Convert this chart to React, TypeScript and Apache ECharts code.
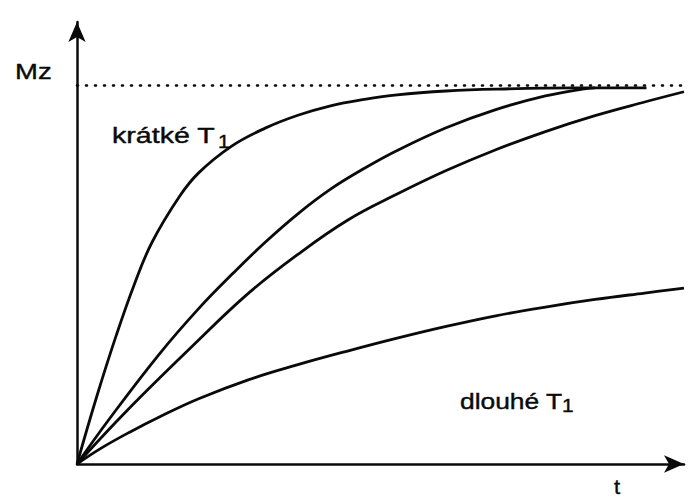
import React, { useEffect, useRef } from "react";
import * as echarts from "echarts";

// Time values (arbitrary units) and normalised Mz values
const shortT: number[] = [0, 0.33, 0.65, 0.95, 1.24, 1.69, 2.01, 2.55, 3.11, 3.65, 4.19, 4.75, 5.29, 6.10, 6.92, 8.23, 9.41];
const shortMz: number[] = [0, 0.18, 0.34, 0.475, 0.585, 0.705, 0.768, 0.838, 0.886, 0.92, 0.945, 0.962, 0.974, 0.984, 0.989, 0.992, 0.992];

const mid1T: number[] = [0, 0.54, 1.36, 2.01, 2.59, 3.11, 3.65, 4.19, 4.75, 5.29, 6.10, 6.92, 7.74, 8.35, 8.56];
const mid1Mz: number[] = [0, 0.12, 0.29, 0.41, 0.505, 0.585, 0.66, 0.725, 0.78, 0.827, 0.887, 0.935, 0.971, 0.989, 0.992];

const mid2T: number[] = [0, 0.82, 1.90, 2.83, 3.65, 4.47, 5.29, 6.10, 6.92, 7.74, 8.56, 9.38, 10.03];
const mid2Mz: number[] = [0, 0.14, 0.31, 0.45, 0.553, 0.643, 0.712, 0.774, 0.829, 0.877, 0.919, 0.955, 0.982];

const longT: number[] = [0, 0.38, 0.87, 1.36, 2.01, 2.83, 3.65, 4.47, 5.29, 6.10, 6.92, 7.74, 8.56, 9.38, 10.03];
const longMz: number[] = [0, 0.040, 0.084, 0.124, 0.172, 0.222, 0.262, 0.298, 0.332, 0.363, 0.391, 0.414, 0.434, 0.451, 0.464];

const equilibrium = 1;

const labelShort = "krátké T";
const labelLong = "dlouhé T";
const subscript = "1";
const yName = "Mz";
const xName = "t";

const zip = (xs: number[], ys: number[]) => xs.map((x, i) => [x, ys[i]]);

const FONT = "Liberation Sans, Arial, Helvetica, sans-serif";
const INK = "#0a0a0a";

export default function App() {
  const ref = useRef<HTMLDivElement>(null);

  useEffect(() => {
    if (!ref.current) return;
    const chart = echarts.init(ref.current, undefined, { renderer: "svg" });

    const lineStyle = { color: INK, width: 2.8 };
    const mkSeries = (name: string, xs: number[], ys: number[], extra: any = {}) => ({
      name,
      type: "line",
      data: zip(xs, ys),
      smooth: 0.4,
      showSymbol: false,
      symbol: "none",
      lineStyle,
      silent: true,
      z: 3,
      ...extra,
    });

    const txt = (text: string, x: number, y: number, size: number, sx = 1.2) => ({
      type: "text",
      x,
      y,
      scaleX: sx,
      style: {
        text,
        fill: INK,
        stroke: INK,
        lineWidth: 0.4,
        font: `${size}px ${FONT}`,
        textAlign: "left",
        textVerticalAlign: "middle",
      },
      z: 10,
    });

    chart.setOption({
      animation: false,
      backgroundColor: "#ffffff",
      grid: { left: 77, right: 6, top: 22, bottom: 35, containLabel: false },
      xAxis: {
        type: "value",
        min: 0,
        max: 10.03,
        axisLine: {
          show: true,
          onZero: true,
          lineStyle: { color: INK, width: 2.5 },
          symbol: ["none", "arrow"],
          symbolSize: [13, 20],
        },
        axisTick: { show: false },
        axisLabel: { show: false },
        splitLine: { show: false },
      },
      yAxis: {
        type: "value",
        min: 0,
        max: 1.166,
        axisLine: {
          show: true,
          lineStyle: { color: INK, width: 2.5 },
          symbol: ["none", "arrow"],
          symbolSize: [13, 20],
        },
        axisTick: { show: false },
        axisLabel: { show: false },
        splitLine: { show: false },
      },
      series: [
        mkSeries("short", shortT, shortMz, {
          markLine: {
            silent: true,
            symbol: ["none", "none"],
            label: { show: false },
            lineStyle: { color: INK, width: 2.6, type: [1, 8], cap: "round" },
            data: [{ yAxis: equilibrium }],
          },
        }),
        mkSeries("mid1", mid1T, mid1Mz),
        mkSeries("mid2", mid2T, mid2Mz),
        mkSeries("long", longT, longMz),
      ],
      graphic: [
        txt(yName, 15, 71, 22, 1.25),
        txt(labelShort, 112, 135, 22, 1.3),
        txt(subscript, 218, 141, 19, 1.1),
        txt(labelLong, 460, 401, 22),
        txt(subscript, 562, 405, 19, 1.1),
        txt(xName, 614, 487, 20, 1.1),
      ],
    });

    return () => chart.dispose();
  }, []);

  return <div ref={ref} style={{ width: 690, height: 499, position: "fixed", left: 0, top: 0 }} />;
}
